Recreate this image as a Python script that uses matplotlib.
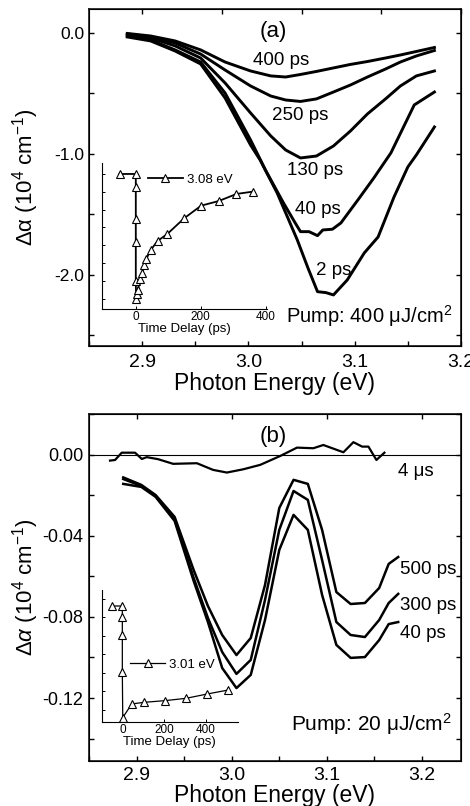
import matplotlib
matplotlib.use("Agg")
import matplotlib.pyplot as plt
from matplotlib.ticker import MultipleLocator, NullFormatter, FormatStrFormatter

plt.rcParams['font.family'] = ['Liberation Sans', 'DejaVu Sans']
plt.rcParams['mathtext.fontset'] = 'custom'
plt.rcParams['mathtext.rm'] = 'Liberation Sans'
plt.rcParams['mathtext.it'] = 'Liberation Sans:italic'

# ---------------- Panel (a) data: Δα (10^4 cm^-1) vs photon energy (eV) ----------------
e_a_common = [2.886, 2.908, 2.931, 2.955, 2.978, 3.002, 3.021, 3.035, 3.049, 3.064,
              3.080, 3.096, 3.112, 3.129, 3.143, 3.158, 3.175]
a_400ps = [-0.004, -0.025, -0.066, -0.140, -0.240, -0.314, -0.355, -0.364, -0.343, -0.318,
           -0.289, -0.260, -0.236, -0.207, -0.182, -0.153, -0.120]
a_250ps = [-0.008, -0.033, -0.083, -0.174, -0.306, -0.438, -0.521, -0.554, -0.566, -0.545,
           -0.488, -0.430, -0.364, -0.298, -0.240, -0.190, -0.145]
a_130ps = [-0.017, -0.041, -0.107, -0.207, -0.413, -0.661, -0.851, -0.967, -1.033, -1.017,
           -0.934, -0.810, -0.669, -0.545, -0.438, -0.355, -0.314]
e_a_40ps = [2.886, 2.908, 2.931, 2.955, 2.978, 3.002, 3.016, 3.033, 3.044, 3.049, 3.057,
            3.065, 3.070, 3.079, 3.087, 3.103, 3.118, 3.134, 3.156, 3.175]
a_40ps = [-0.025, -0.058, -0.140, -0.240, -0.496, -0.884, -1.132, -1.405, -1.570, -1.642,
          -1.642, -1.675, -1.628, -1.622, -1.570, -1.380, -1.198, -0.992, -0.595, -0.488]
e_a_2ps = [2.886, 2.908, 2.931, 2.955, 2.978, 3.002, 3.011, 3.027, 3.046, 3.056, 3.065,
           3.073, 3.080, 3.093, 3.109, 3.122, 3.137, 3.150, 3.158, 3.175]
a_2ps = [-0.033, -0.066, -0.149, -0.256, -0.537, -0.926, -1.050, -1.322, -1.711, -1.942,
         -2.138, -2.146, -2.165, -2.041, -1.818, -1.686, -1.355, -1.107, -1.008, -0.777]
labels_a = ["400 ps", "250 ps", "130 ps", "40 ps", "2 ps"]

# inset (a): kinetics at 3.08 eV
t_a = [-50, 0, 0, 0, 0, 0, 1, 3, 6, 14, 20, 26, 32, 46, 67, 97, 149, 201, 256, 310, 360]
k_a = [0.0, 0.0, -0.224, -0.759, -1.142, -1.804, -2.108, -2.024, -1.956, -1.776, -1.675,
       -1.535, -1.438, -1.282, -1.130, -1.012, -0.747, -0.535, -0.455, -0.337, -0.298]

# ---------------- Panel (b) data ----------------
e_b = [2.886, 2.905, 2.920, 2.940, 2.960, 2.975, 2.990, 3.005, 3.020, 3.035,
       3.050, 3.065, 3.080, 3.095, 3.110, 3.125, 3.140, 3.155, 3.165, 3.175]
b_500ps = [-0.0111, -0.0148, -0.0198, -0.0306, -0.0568, -0.0746, -0.0889, -0.0988, -0.0904, -0.0642,
           -0.0262, -0.0123, -0.0143, -0.0370, -0.0677, -0.0736, -0.0731, -0.0657, -0.0538, -0.0504]
b_300ps = [-0.0119, -0.0153, -0.0202, -0.0316, -0.0607, -0.0805, -0.0973, -0.1081, -0.1012, -0.0716,
           -0.0370, -0.0178, -0.0222, -0.0519, -0.0825, -0.0889, -0.0899, -0.0815, -0.0731, -0.0686]
b_40ps = [-0.0143, -0.0158, -0.0207, -0.0326, -0.0622, -0.0825, -0.1052, -0.1151, -0.1086, -0.0815,
          -0.0469, -0.0296, -0.0370, -0.0691, -0.0938, -0.1002, -0.0998, -0.0914, -0.0835, -0.0825]
e_b_4us = [2.8721, 2.8774, 2.8844, 2.8984, 2.9055, 2.9107, 2.9226, 2.9384, 2.9634, 2.9805,
           2.9949, 3.0121, 3.0300, 3.0511, 3.0686, 3.0858, 3.0963, 3.1174, 3.1279, 3.1371,
           3.1437, 3.1521, 3.1605]
b_4us = [-0.0028, -0.0025, 0.0011, 0.0011, -0.0020, -0.0011, -0.0021, -0.0044, -0.0041, -0.0074,
         -0.0087, -0.0071, -0.0049, -0.0005, 0.0036, 0.0033, 0.0049, 0.0013, 0.0063, 0.0041,
         0.0041, -0.0025, 0.0011]
labels_b = ["500 ps", "300 ps", "40 ps", "4 \u03bcs"]

# inset (b): kinetics at 3.01 eV
t_b = [-50, 0, 0, 0, 0, 2, 45, 106, 205, 306, 408, 509]
k_b = [-0.0076, -0.0076, -0.0191, -0.0389, -0.0792, -0.1283, -0.1135, -0.1117, -0.1099,
       -0.1074, -0.1027, -0.0984]

W, H = 470, 806
fig = plt.figure(figsize=(W / 100, H / 100), dpi=100)

def style_main(ax, xfs=14, yfs=12.5, xpad=6.0, ypad=3.5):
    for s in ax.spines.values():
        s.set_linewidth(1.1)
    ax.tick_params(which='both', direction='in', top=False, right=True, length=3.6, width=1.0)
    ax.tick_params(axis='x', labelsize=xfs, pad=xpad)
    ax.tick_params(axis='y', labelsize=yfs, pad=ypad)

# ================= Panel (a) =================
axa = fig.add_axes([89 / W, 1 - 346 / H, 372 / W, 337 / H])
lw_a = 2.1
axa.plot(e_a_common, a_400ps, color='black', lw=lw_a)
axa.plot(e_a_common, a_250ps, color='black', lw=lw_a)
axa.plot(e_a_common, a_130ps, color='black', lw=lw_a)
axa.plot(e_a_40ps, a_40ps, color='black', lw=lw_a)
axa.plot(e_a_2ps, a_2ps, color='black', lw=lw_a)
axa.set_xlim(2.85, 3.2)
axa.set_ylim(-2.587, 0.198)
axa.xaxis.set_major_locator(MultipleLocator(0.1))
axa.xaxis.set_minor_locator(MultipleLocator(0.05))
axa.yaxis.set_major_locator(MultipleLocator(1.0))
axa.yaxis.set_minor_locator(MultipleLocator(0.5))
axa.xaxis.set_major_formatter(FormatStrFormatter('%.1f'))
axa.yaxis.set_major_formatter(FormatStrFormatter('%.1f'))
style_main(axa)
axta = axa.twiny()
axta.set_xlim(axa.get_xlim())
axta.set_xticks([2.9, 2.975, 3.05, 3.125, 3.2])
axta.tick_params(direction='in', length=3.6, width=1.0, labeltop=False)
axa.set_xlabel("Photon Energy (eV)", fontsize=16.5)
axa.xaxis.set_label_coords(0.5, -0.077)
axa.set_ylabel("\u0394\u03b1 (10$^4$ cm$^{-1}$)", fontsize=16)
axa.yaxis.set_label_coords(-0.128, 0.5)

pos_a = [(3.031, -0.231), (3.049, -0.678), (3.063, -1.135), (3.065, -1.463), (3.080, -1.964)]
for lab, (x, y) in zip(labels_a, pos_a):
    axa.text(x, y, lab, fontsize=13.5, ha='center', va='center')
axa.text(3.023, 0.011, "(a)", fontsize=16, ha='center', va='center')
axa.text(3.1135, -2.34, "Pump: 400 \u03bcJ/cm$^2$", fontsize=14.5, ha='center', va='center')

# inset (a)
ina = fig.add_axes([101.7 / W, 1 - 309 / H, 165.3 / W, 146 / H], facecolor='none')
ina.plot(t_a, k_a, color='black', lw=1.3, marker='^', ms=6, mfc='white', mec='black',
         mew=0.8, label="3.08 eV")
ina.set_xlim(-105, 404)
ina.set_ylim(-2.277, 0.185)
ina.set_xticks([0, 200, 400])
ina.yaxis.set_major_locator(MultipleLocator(0.3))
ina.yaxis.set_major_formatter(NullFormatter())
for s in ['top', 'right']:
    ina.spines[s].set_visible(False)
for s in ['left', 'bottom']:
    ina.spines[s].set_linewidth(0.8)
ina.tick_params(direction='in', length=2.5, width=0.7, labelsize=8.5, pad=1.5)
ina.set_xlabel("Time Delay (ps)", fontsize=9.5, labelpad=0)
ina.legend(loc='center left', bbox_to_anchor=(0.28, 0.884), frameon=False, fontsize=9.5,
           handlelength=2.65, handletextpad=0.3, borderpad=0, borderaxespad=0, numpoints=1)

# ================= Panel (b) =================
axb = fig.add_axes([89 / W, 1 - 761 / H, 372 / W, 347 / H])
lw_b = 1.8
axb.plot(e_b, b_500ps, color='black', lw=lw_b)
axb.plot(e_b, b_300ps, color='black', lw=lw_b)
axb.plot(e_b, b_40ps, color='black', lw=lw_b)
axb.plot(e_b_4us, b_4us, color='black', lw=1.6)
axb.axhline(0.0, color='black', lw=0.8)
axb.set_xlim(2.85, 3.241)
axb.set_ylim(-0.1511, 0.0202)
axb.xaxis.set_major_locator(MultipleLocator(0.1))
axb.xaxis.set_minor_locator(MultipleLocator(0.05))
axb.yaxis.set_major_locator(MultipleLocator(0.04))
axb.yaxis.set_minor_locator(MultipleLocator(0.02))
axb.xaxis.set_major_formatter(FormatStrFormatter('%.1f'))
axb.yaxis.set_major_formatter(FormatStrFormatter('%.2f'))
style_main(axb, xfs=14, yfs=13, xpad=4.5, ypad=4)
axtb = axb.twiny()
axtb.set_xlim(axb.get_xlim())
axtb.set_xticks([2.9, 3.0, 3.1, 3.2])
axtb.tick_params(direction='in', length=3.6, width=1.0, labeltop=False)
axb.set_xlabel("Photon Energy (eV)", fontsize=16.5)
axb.xaxis.set_label_coords(0.5, -0.067)
axb.set_ylabel("\u0394$\\it{\u03b1}$ (10$^4$ cm$^{-1}$)", fontsize=16)
axb.yaxis.set_label_coords(-0.128, 0.5)

pos_b = [(3.1774, -0.0568), (3.1774, -0.0741), (3.1774, -0.0881), (3.1753, -0.0082)]
for lab, (x, y) in zip(labels_b, pos_b):
    axb.text(x, y, lab, fontsize=13.5, ha='left', va='center')
axb.text(3.044, 0.0090, "(b)", fontsize=16, ha='center', va='center')
axb.text(3.1466, -0.1328, "Pump: 20 \u03bcJ/cm$^2$", fontsize=15, ha='center', va='center')

# inset (b)
inb = fig.add_axes([101.7 / W, 1 - 722 / H, 136.3 / W, 132 / H], facecolor='none')
inb.plot(t_b, k_b, color='black', lw=0.9, marker='^', ms=6, mfc='white', mec='black',
         mew=0.8, label="3.01 eV")
inb.set_xlim(-99, 555)
inb.set_ylim(-0.133, 0.0097)
inb.set_xticks([0, 200, 400])
inb.yaxis.set_major_locator(MultipleLocator(0.02))
inb.yaxis.set_major_formatter(NullFormatter())
for s in ['top', 'right']:
    inb.spines[s].set_visible(False)
for s in ['left', 'bottom']:
    inb.spines[s].set_linewidth(0.8)
inb.tick_params(direction='in', length=2.5, width=0.7, labelsize=8.5, pad=1.5)
inb.set_xlabel("Time Delay (ps)", fontsize=9.5, labelpad=0)
inb.legend(loc='center left', bbox_to_anchor=(0.208, 0.432), frameon=False, fontsize=9.5,
           handlelength=2.65, handletextpad=0.3, borderpad=0, borderaxespad=0, numpoints=1)

fig.savefig("out.png", dpi=100)
